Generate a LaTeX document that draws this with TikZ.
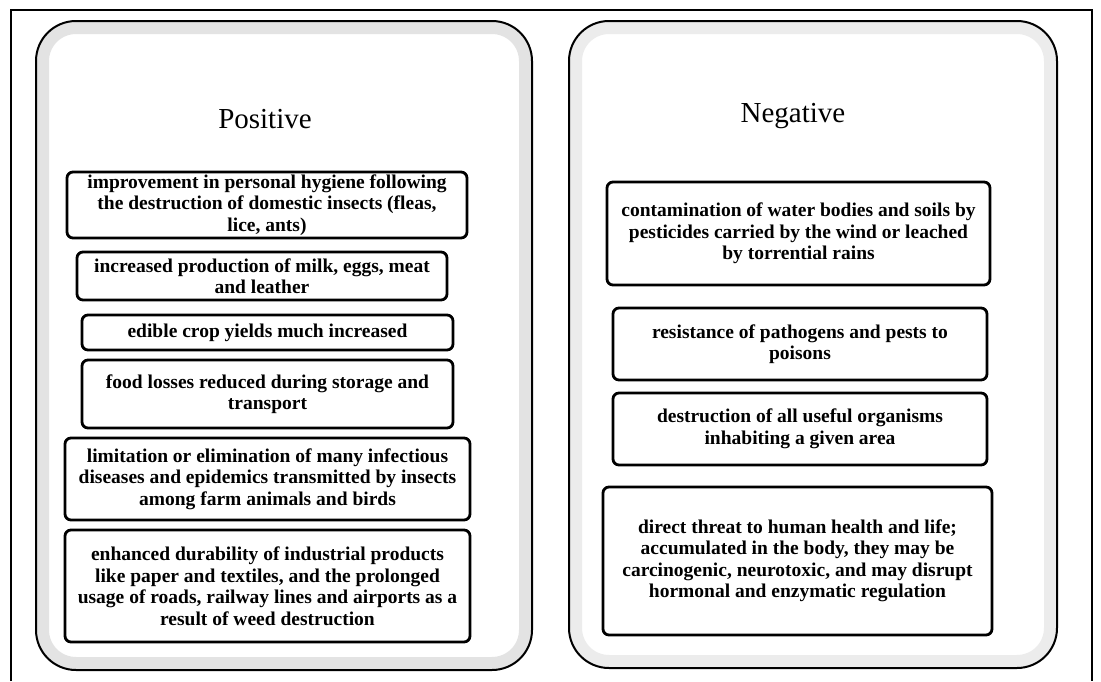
\documentclass[tikz,border=0pt]{standalone}
\usepackage{fontspec}
\setmainfont{Liberation Serif}
\tikzset{
    panel-box/.style = {draw=black, fill=white, line width=2pt, rectangle, rounded corners=40pt,
        path picture={\draw[#1, line width=26pt, rounded corners=40pt]
            (path picture bounding box.south west) rectangle (path picture bounding box.north east);}},
    panel-box/.default = gray!15,
    item-box/.style = {draw=black, fill=white, line width=2.8pt, rectangle, rounded corners=6pt, align=center, inner sep=2pt,
        font=\bfseries\fontsize{19.5}{21.5}\selectfont},
    panel-title/.style = {font=\fontsize{29}{32}\selectfont},
}

\begin{document}
\begin{tikzpicture}[x=1pt, y=-1pt]
\useasboundingbox (0,0) rectangle (1101,681);
\fill[white] (0,0) rectangle (1101,681);
\draw[line width=2pt] (11,681) -- (11,10) -- (1092,10) -- (1092,681);

% the two panels
\node[panel-box=gray!22, minimum width=496pt, minimum height=649pt] (pos-panel) at (284,345.5) {};
\node[panel-box, minimum width=488pt, minimum height=647pt] (neg-panel) at (813,344.5) {};
\node[panel-title] (pos-title) at (265,119) {Positive};
\node[panel-title] (neg-title) at (793,116) {Negative};

% positive effects
\node[item-box, minimum width=400pt, minimum height=66pt] (pos-1) at (267,205) {improvement in personal hygiene following\\the destruction of domestic insects (fleas,\\lice, ants)};
\node[item-box, minimum width=370pt, minimum height=48pt] (pos-2) at (262,276) {increased production of milk, eggs, meat\\and leather};
\node[item-box, minimum width=371pt, minimum height=35pt] (pos-3) at (267.5,332.5) {edible crop yields much increased};
\node[item-box, minimum width=371pt, minimum height=68pt] (pos-4) at (267.5,394) {food losses reduced during storage and\\transport};
\node[item-box, minimum width=405pt, minimum height=82pt] (pos-5) at (267.5,479) {limitation or elimination of many infectious\\diseases and epidemics transmitted by insects\\among farm animals and birds};
\node[item-box, minimum width=405pt, minimum height=112pt] (pos-6) at (267.5,586) {enhanced durability of industrial products\\like paper and textiles, and the prolonged\\usage of roads, railway lines and airports as a\\result of weed destruction};

% negative effects
\node[item-box, minimum width=383pt, minimum height=103pt] (neg-1) at (798.5,233.5) {contamination of water bodies and soils by\\pesticides carried by the wind or leached\\by torrential rains};
\node[item-box, minimum width=374pt, minimum height=72pt] (neg-2) at (800,344) {resistance of pathogens and pests to\\poisons};
\node[item-box, minimum width=374pt, minimum height=72pt] (neg-3) at (800,429) {destruction of all useful organisms\\inhabiting a given area};
\node[item-box, minimum width=389pt, minimum height=148pt] (neg-4) at (797.5,561) {direct threat to human health and life;\\accumulated in the body, they may be\\carcinogenic, neurotoxic, and may disrupt\\hormonal and enzymatic regulation};
\end{tikzpicture}
\end{document}
